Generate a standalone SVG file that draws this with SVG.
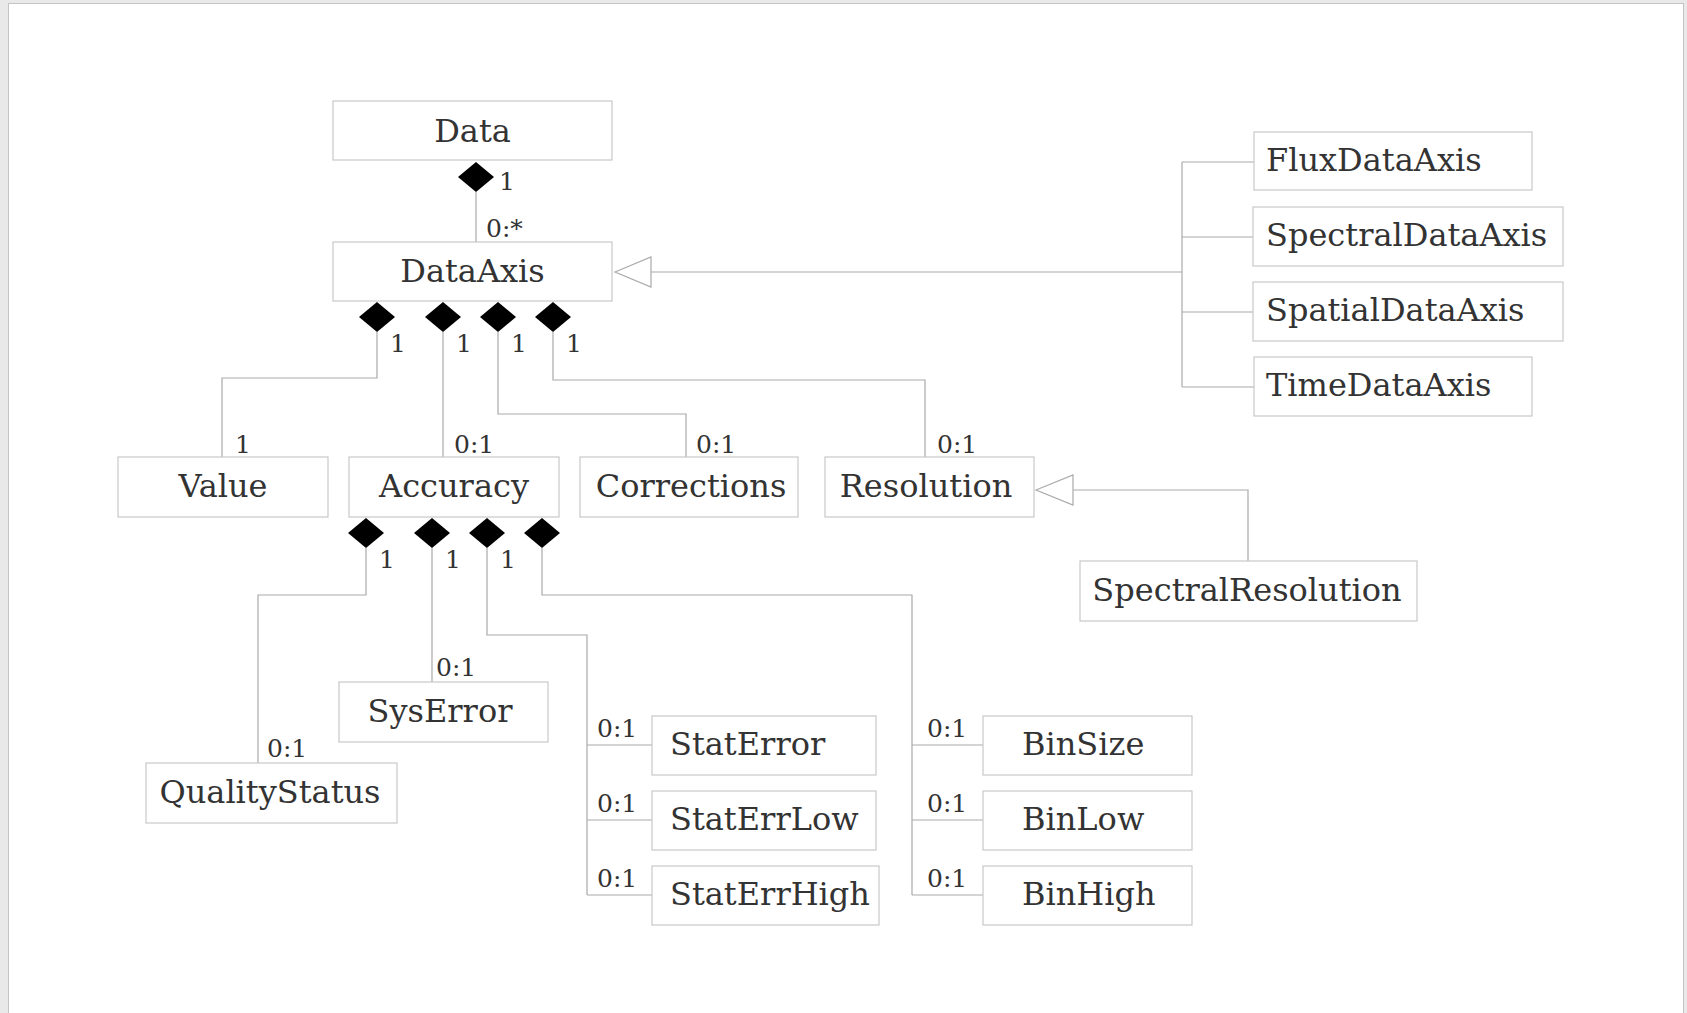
<svg xmlns="http://www.w3.org/2000/svg" width="1687" height="1013" viewBox="0 0 1687 1013">
<defs>
<style>
.box{fill:#fff;stroke:#c8c8c8;stroke-width:1.2}
.t{font-family:"DejaVu Serif","Liberation Serif",serif;font-size:32px;fill:#333}
.c{text-anchor:middle}
.lb{font-family:"DejaVu Serif","Liberation Serif",serif;font-size:25px;fill:#333}
.ln{fill:none;stroke:#aaa;stroke-width:1.2}
.dia{fill:#000}
.tri{fill:#fff;stroke:#aaa;stroke-width:1.2}
</style>
<path id="d" d="M0,-15 L18,0 L0,15 L-18,0 Z"/>
</defs>
<rect x="0" y="0" width="1687" height="1013" fill="#e9e9e9"/>
<rect x="8.5" y="3.5" width="1675" height="1012" fill="#fff" stroke="#c4c4c4" stroke-width="1"/>

<g id="connectors">
<line class="ln" x1="476" y1="192" x2="476" y2="242"/>
<polyline class="ln" points="651,272 1182,272"/>
<polyline class="ln" points="1182,162 1182,387"/>
<polyline class="ln" points="1182,162 1254,162"/>
<polyline class="ln" points="1182,237 1253,237"/>
<polyline class="ln" points="1182,312 1253,312"/>
<polyline class="ln" points="1182,387 1254,387"/>
<polygon class="tri" points="615,272 651,257 651,287"/>
<polyline class="ln" points="377,332 377,378 222,378 222,457"/>
<polyline class="ln" points="443,332 443,457"/>
<polyline class="ln" points="498,332 498,414 686,414 686,457"/>
<polyline class="ln" points="553,332 553,380 925,380 925,457"/>
<polyline class="ln" points="1073,490 1248,490 1248,561"/>
<polygon class="tri" points="1036,490 1073,475 1073,505"/>
<polyline class="ln" points="366,548 366,595 258,595 258,763"/>
<polyline class="ln" points="432,548 432,682"/>
<polyline class="ln" points="487,548 487,635 587,635 587,895"/>
<polyline class="ln" points="587,745 652,745"/>
<polyline class="ln" points="587,820 652,820"/>
<polyline class="ln" points="587,895 652,895"/>
<polyline class="ln" points="542,548 542,595 912,595 912,895"/>
<polyline class="ln" points="912,745 983,745"/>
<polyline class="ln" points="912,820 983,820"/>
<polyline class="ln" points="912,895 983,895"/>
<use href="#d" class="dia" x="476" y="177"/>
<use href="#d" class="dia" x="377" y="317"/>
<use href="#d" class="dia" x="443" y="317"/>
<use href="#d" class="dia" x="498" y="317"/>
<use href="#d" class="dia" x="553" y="317"/>
<use href="#d" class="dia" x="366" y="533"/>
<use href="#d" class="dia" x="432" y="533"/>
<use href="#d" class="dia" x="487" y="533"/>
<use href="#d" class="dia" x="542" y="533"/>
<text class="lb" x="499" y="190">1</text>
<text class="lb" x="486" y="237">0:*</text>
<text class="lb" x="390" y="352">1</text>
<text class="lb" x="456" y="352">1</text>
<text class="lb" x="511" y="352">1</text>
<text class="lb" x="566" y="352">1</text>
<text class="lb" x="235" y="453">1</text>
<text class="lb" x="454" y="453">0:1</text>
<text class="lb" x="696" y="453">0:1</text>
<text class="lb" x="937" y="453">0:1</text>
<text class="lb" x="379" y="568">1</text>
<text class="lb" x="445" y="568">1</text>
<text class="lb" x="500" y="568">1</text>
<text class="lb" x="436" y="676">0:1</text>
<text class="lb" x="267" y="757">0:1</text>
<text class="lb" x="597" y="737">0:1</text>
<text class="lb" x="597" y="812">0:1</text>
<text class="lb" x="597" y="887">0:1</text>
<text class="lb" x="927" y="737">0:1</text>
<text class="lb" x="927" y="812">0:1</text>
<text class="lb" x="927" y="887">0:1</text>
</g>

<g id="Data"><rect class="box" x="333" y="101" width="279" height="59"/><text class="t c" x="472.5" y="142">Data</text></g>
<g id="DataAxis"><rect class="box" x="333" y="242" width="279" height="59"/><text class="t c" x="472.5" y="282">DataAxis</text></g>
<g id="Value"><rect class="box" x="118" y="457" width="210" height="60"/><text class="t c" x="223" y="497">Value</text></g>
<g id="Accuracy"><rect class="box" x="349" y="457" width="210" height="60"/><text class="t c" x="454" y="497">Accuracy</text></g>
<g id="Corrections"><rect class="box" x="580" y="457" width="218" height="60"/><text class="t c" x="691" y="497">Corrections</text></g>
<g id="Resolution"><rect class="box" x="825" y="457" width="209" height="60"/><text class="t c" x="926" y="497">Resolution</text></g>
<g id="SpectralResolution"><rect class="box" x="1080" y="561" width="337" height="60"/><text class="t c" x="1247" y="601">SpectralResolution</text></g>
<g id="FluxDataAxis"><rect class="box" x="1254" y="132" width="278" height="58"/><text class="t" x="1266" y="171">FluxDataAxis</text></g>
<g id="SpectralDataAxis"><rect class="box" x="1253" y="207" width="310" height="59"/><text class="t" x="1266" y="246">SpectralDataAxis</text></g>
<g id="SpatialDataAxis"><rect class="box" x="1253" y="282" width="310" height="59"/><text class="t" x="1266" y="321">SpatialDataAxis</text></g>
<g id="TimeDataAxis"><rect class="box" x="1254" y="357" width="278" height="59"/><text class="t" x="1266" y="396">TimeDataAxis</text></g>
<g id="SysError"><rect class="box" x="339" y="682" width="209" height="60"/><text class="t c" x="440" y="722">SysError</text></g>
<g id="QualityStatus"><rect class="box" x="146" y="763" width="251" height="60"/><text class="t c" x="270" y="803">QualityStatus</text></g>
<g id="StatError"><rect class="box" x="652" y="716" width="224" height="59"/><text class="t" x="670" y="755">StatError</text></g>
<g id="StatErrLow"><rect class="box" x="652" y="791" width="224" height="59"/><text class="t" x="670" y="830">StatErrLow</text></g>
<g id="StatErrHigh"><rect class="box" x="652" y="866" width="227" height="59"/><text class="t" x="670" y="905">StatErrHigh</text></g>
<g id="BinSize"><rect class="box" x="983" y="716" width="209" height="59"/><text class="t" x="1022" y="755">BinSize</text></g>
<g id="BinLow"><rect class="box" x="983" y="791" width="209" height="59"/><text class="t" x="1022" y="830">BinLow</text></g>
<g id="BinHigh"><rect class="box" x="983" y="866" width="209" height="59"/><text class="t" x="1022" y="905">BinHigh</text></g>
</svg>
